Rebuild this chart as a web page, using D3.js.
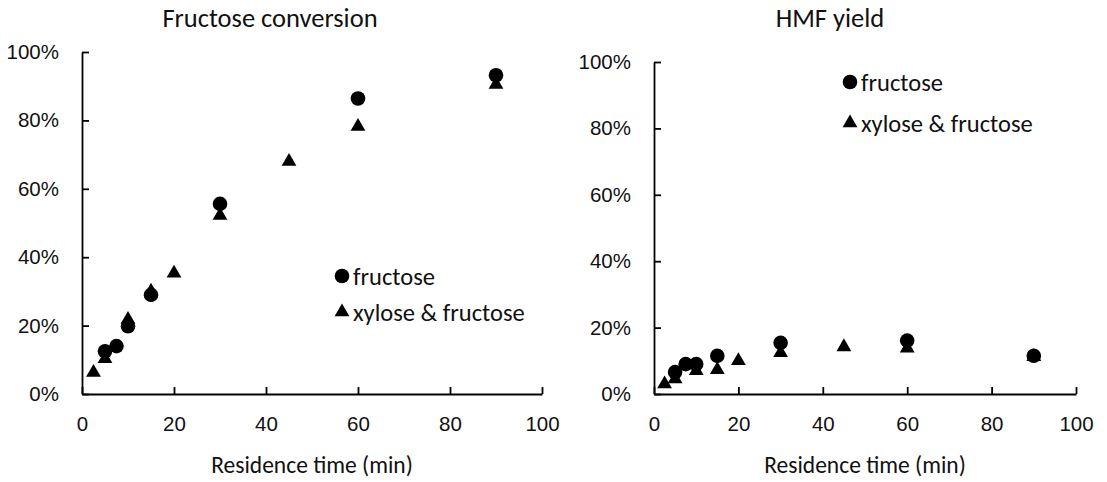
<!DOCTYPE html>
<html>
<head>
<meta charset="utf-8">
<script src="https://cdn.jsdelivr.net/npm/d3@7"></script>
<style>
  html, body { margin: 0; padding: 0; background: #fff; }
  svg { display: block; font-family: Carlito, Lato, "Open Sans", sans-serif; }
</style>
</head>
<body>
<svg id="chart" width="1107" height="482"></svg>
<script>
// Residence times (min) and measured values (fraction)
const timesFructose = [5, 7.5, 10, 15, 30, 60, 90];
const timesMixed = [2.5, 5, 10, 15, 20, 30, 45, 60, 90];

const conversionFructose = [0.125, 0.14, 0.198, 0.29, 0.556, 0.864, 0.932];
const conversionMixed = [0.063, 0.103, 0.218, 0.30, 0.353, 0.522, 0.68, 0.782, 0.905];

const yieldFructose = [0.066, 0.09, 0.09, 0.115, 0.154, 0.161, 0.115];
const yieldMixed = [0.03, 0.045, 0.07, 0.073, 0.10, 0.124, 0.142, 0.138, 0.112];

const xTicks = [0, 20, 40, 60, 80, 100];
const yTicks = [0, 0.2, 0.4, 0.6, 0.8, 1.0];
const seriesNames = ["fructose", "xylose & fructose"];

const svg = d3.select("#chart");
const triangle = d3.symbol(d3.symbolTriangle, 95);

function panel(opts) {
  const g = svg.append("g");
  const x = d3.scaleLinear().domain([0, 100]).range([opts.left, opts.right]);
  const y = d3.scaleLinear().domain([0, 1]).range([opts.bottom, opts.top]);

  // x axis with inside ticks
  const xAxis = g.append("g")
    .attr("transform", `translate(0,${opts.bottom})`)
    .call(d3.axisBottom(x).tickValues(xTicks).tickSizeInner(-7).tickSizeOuter(0).tickPadding(22).tickFormat(d3.format("d")));
  // y axis with inside ticks
  const yAxis = g.append("g")
    .attr("transform", `translate(${opts.left},0)`)
    .call(d3.axisLeft(y).tickValues(yTicks).tickSizeInner(-7).tickSizeOuter(0).tickPadding(23).tickFormat(d3.format(".0%")));

  [xAxis, yAxis].forEach(a => {
    a.select(".domain").attr("stroke", "#000").attr("stroke-width", 1.8);
    a.selectAll(".tick line").attr("stroke", "#000").attr("stroke-width", 1.8);
    a.selectAll(".tick text").attr("fill", "#111").attr("font-size", 20.5);
  });

  // title and axis label
  g.append("text").attr("x", opts.titleX).attr("y", 27)
    .attr("text-anchor", "middle").attr("font-size", 26.5).attr("fill", "#111")
    .text(opts.title);
  g.append("text").attr("x", (opts.left + opts.right) / 2).attr("y", opts.bottom + 79)
    .attr("text-anchor", "middle").attr("font-size", 23.5).attr("fill", "#111")
    .text("Residence time (min)");

  // xylose & fructose markers
  g.append("g").selectAll("path")
    .data(timesMixed.map((t, i) => [t, opts.mixed[i]]))
    .join("path")
    .attr("d", triangle)
    .attr("transform", d => `translate(${x(d[0])},${y(d[1])})`)
    .attr("fill", "#000");

  // fructose markers
  g.append("g").selectAll("circle")
    .data(timesFructose.map((t, i) => [t, opts.fructose[i]]))
    .join("circle")
    .attr("cx", d => x(d[0])).attr("cy", d => y(d[1]))
    .attr("r", 7.3).attr("fill", "#000");

  // legend
  const lg = g.append("g").attr("transform", `translate(${opts.legendX},${opts.legendY})`);
  lg.append("circle").attr("cx", 0).attr("cy", 0).attr("r", 7.3).attr("fill", "#000");
  lg.append("path").attr("d", triangle).attr("transform", `translate(0,${opts.legendGap})`).attr("fill", "#000");
  seriesNames.forEach((name, i) => {
    lg.append("text").attr("x", 11).attr("y", i * opts.legendGap).attr("dy", "0.35em")
      .attr("font-size", 24.5).attr("fill", "#111").text(name);
  });
}

panel({
  left: 82, right: 542, top: 52, bottom: 394,
  title: "Fructose conversion", titleX: 270,
  fructose: conversionFructose, mixed: conversionMixed,
  legendX: 342, legendY: 276, legendGap: 36
});

panel({
  left: 654, right: 1076, top: 62, bottom: 394,
  title: "HMF yield", titleX: 830,
  fructose: yieldFructose, mixed: yieldMixed,
  legendX: 850, legendY: 82, legendGap: 41
});
</script>
</body>
</html>
